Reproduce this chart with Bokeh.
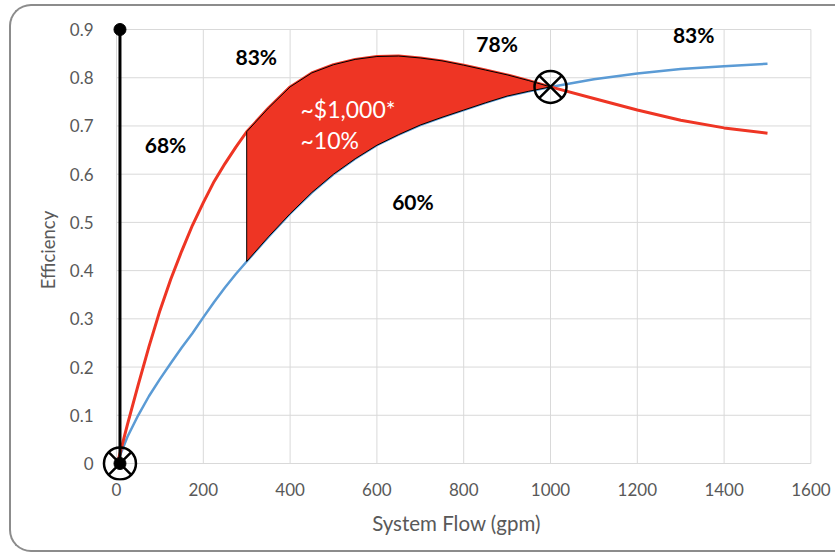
from bokeh.plotting import figure
from bokeh.models import FixedTicker, Range1d
from bokeh.core.properties import value
from bokeh.embed import file_html
from bokeh.resources import INLINE

# ---- data ----
flow = [5, 25, 50, 75, 100, 125, 150, 175, 200, 225, 250, 275, 300, 350, 400, 450, 500,
        550, 600, 650, 700, 750, 800, 850, 900, 950, 1000, 1100, 1200, 1300, 1400, 1500]
eff_red = [0.01, 0.08, 0.163, 0.243, 0.317, 0.382, 0.44, 0.494, 0.541, 0.585, 0.622,
           0.656, 0.688, 0.737, 0.781, 0.810, 0.827, 0.838, 0.844, 0.845, 0.841, 0.835,
           0.826, 0.816, 0.806, 0.794, 0.781, 0.757, 0.733, 0.712, 0.696, 0.685]
eff_blue = [0.01, 0.055, 0.10, 0.14, 0.175, 0.208, 0.24, 0.27, 0.303, 0.335, 0.365,
            0.393, 0.419, 0.47, 0.518, 0.562, 0.600, 0.632, 0.660, 0.682, 0.702, 0.718,
            0.733, 0.748, 0.762, 0.772, 0.781, 0.797, 0.809, 0.818, 0.824, 0.829]
fill_from, fill_to = 300, 1000

marker_line_x = [8, 8]
marker_line_y = [0, 0.9]
cross_x = [8, 1000]
cross_y = [0, 0.781]

pct_labels = ["83%", "68%", "78%", "83%", "60%"]
pct_x = [322, 113, 877, 1330, 683]
pct_y = [0.845, 0.662, 0.870, 0.890, 0.544]

note_labels = ["~$1,000*", "~10%"]
note_x = [424, 424]
note_y = [0.7356, 0.671]

x_ticks = [0, 200, 400, 600, 800, 1000, 1200, 1400, 1600]
y_ticks = [0, 0.1, 0.2, 0.3, 0.4, 0.5, 0.6, 0.7, 0.8, 0.9]
y_tick_labels = ["0", "0.1", "0.2", "0.3", "0.4", "0.5", "0.6", "0.7", "0.8", "0.9"]

RED = "#EE3524"
BLUE = "#5B9BD5"
GRID = "#D9D9D9"
FONT = "Lato"

# ---- layout (pixels) ----
W, H = 826, 548
FL, FR, FT, FB = 88, 802, 13, 474          # frame edges on canvas
X0PX, XPX = 105, 0.434                      # x=0 pixel and px per gpm
Y0PX, YPX = 457, 482.2                      # y=0 pixel and px per unit
x_start = -(X0PX - FL) / XPX
x_end = (FR - X0PX) / XPX
y_start = -(FB - Y0PX) / YPX
y_end = (Y0PX - FT) / YPX

p = figure(width=W, height=H, output_backend="svg", toolbar_location=None,
           x_range=Range1d(x_start, x_end), y_range=Range1d(y_start, y_end),
           min_border_left=FL, min_border_right=W - FR, min_border_top=FT,
           min_border_bottom=H - FB)
p.styles = {"margin-left": "9px", "margin-top": "4px",
            "border": "2px solid #8C8C8C", "border-right": "none",
            "border-radius": "22px 0 0 22px"}
p.outline_line_color = None
p.background_fill_color = None
p.border_fill_color = None
p.xgrid.visible = False
p.ygrid.visible = False

for ax in (p.xaxis, p.yaxis):
    ax.axis_line_color = None
    ax.major_tick_line_color = None
    ax.minor_tick_line_color = None
    ax.major_label_text_font = FONT
    ax.major_label_text_font_size = "17px"
    ax.major_label_text_color = "#595959"
    ax.axis_label_text_font = FONT
    ax.axis_label_text_font_style = "normal"
    ax.axis_label_text_color = "#595959"

p.xaxis.ticker = FixedTicker(ticks=x_ticks)
p.yaxis.ticker = FixedTicker(ticks=y_ticks)
p.yaxis.major_label_overrides = {t: l for t, l in zip(y_ticks, y_tick_labels)}
p.xaxis.major_label_standoff = -4
p.yaxis.major_label_standoff = 0
p.xaxis.axis_label = "System Flow (gpm)"
p.yaxis.axis_label = "Efficiency"
p.xaxis.axis_label_text_font_size = "20.5px"
p.yaxis.axis_label_text_font_size = "18.5px"
p.xaxis.axis_label_standoff = 12
p.yaxis.axis_label_standoff = 8

# grid drawn only across the tick extent
p.segment(x0=x_ticks, y0=[y_ticks[0]] * len(x_ticks), x1=x_ticks,
          y1=[y_ticks[-1]] * len(x_ticks), line_color=GRID, line_width=1)
p.segment(x0=[x_ticks[0]] * len(y_ticks), y0=y_ticks, x1=[x_ticks[-1]] * len(y_ticks),
          y1=y_ticks, line_color=GRID, line_width=1)

# curves
p.line(flow, eff_blue, line_color=BLUE, line_width=2.5)
p.line(flow, eff_red, line_color=RED, line_width=3)

# filled gap region
idx = [i for i, f in enumerate(flow) if fill_from <= f <= fill_to]
fx = [flow[i] for i in idx]
fr = [eff_red[i] for i in idx]
fb = [eff_blue[i] for i in idx]
p.patch(fx + fx[::-1], fr + fb[::-1], fill_color=RED, line_color="black", line_width=1)

# vertical black line with dots
p.line(marker_line_x, marker_line_y, line_color="black", line_width=3)
p.scatter(marker_line_x, marker_line_y, size=12, color="black")
p.scatter(cross_x, cross_y, marker="circle_x", size=32, fill_color=None,
          line_color="black", line_width=2.5)

p.text(pct_x, pct_y, text=pct_labels, text_font=value(FONT), text_font_style="bold",
       text_font_size="21px", text_align="center", text_baseline="middle",
       text_color="black")
p.text(note_x, note_y, text=note_labels, text_font=value(FONT),
       text_font_size="23px", text_align="left", text_baseline="alphabetic",
       text_color="white")

open("out.html", "w").write(file_html(p, INLINE))
